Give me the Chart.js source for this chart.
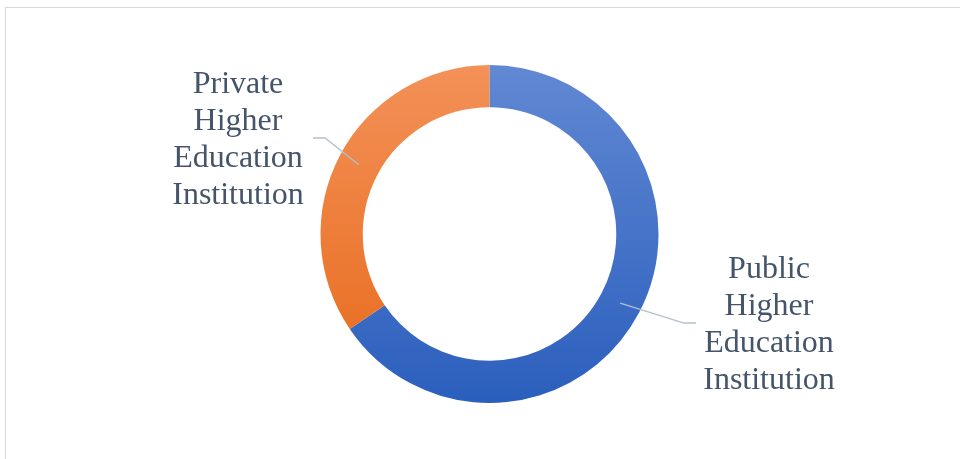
<!DOCTYPE html>
<html>
<head>
<meta charset="utf-8">
<script src="https://cdn.jsdelivr.net/npm/chart.js@4/dist/chart.umd.min.js"></script>
<style>
    html, body { margin: 0; padding: 0; background: #fff; overflow: hidden; }
    #frame {
        position: absolute; left: 5px; top: 7px; width: 1000px; height: 500px;
        border-left: 1px solid #d9d9d9; border-top: 1px solid #d9d9d9;
    }
    #chart-wrap { position: absolute; left: 0; top: 0; width: 960px; height: 459px; }
</style>
</head>
<body>
<div id="frame"></div>
<div id="chart-wrap"><canvas id="chart"></canvas></div>
<script>
const CATEGORIES = ['Public Higher Education Institution', 'Private Higher Education Institution'];
const SHARES = [65.5, 34.5];
const LABEL_LINES = [
    ['Public', 'Higher', 'Education', 'Institution'],
    ['Private', 'Higher', 'Education', 'Institution']
];

// colour stops (top, bottom) for each slice
const GRADIENTS = [
    ['#6188d3', '#2b5fbd'],
    ['#f39158', '#e7691a']
];

// where each label block sits and where its leader line bends
const LABEL_LAYOUT = [
    { x: 769, y: 278, elbow: [684, 323], end: [696, 323] },
    { x: 238, y: 93, elbow: [325, 138], end: [313, 138] }
];

function sliceFill(context) {
    const chart = context.chart;
    const area = chart.chartArea;
    if (!area) return GRADIENTS[context.dataIndex][0];
    const ctx = chart.ctx;
    const g = ctx.createLinearGradient(0, area.top, 0, area.bottom);
    g.addColorStop(0, GRADIENTS[context.dataIndex][0]);
    g.addColorStop(1, GRADIENTS[context.dataIndex][1]);
    return g;
}

const leaderLabels = {
    id: 'leaderLabels',
    afterDatasetsDraw(chart) {
        const ctx = chart.ctx;
        const meta = chart.getDatasetMeta(0);
        ctx.save();
        meta.data.forEach((arc, i) => {
            const lay = LABEL_LAYOUT[i];
            const p = arc.getProps(['x', 'y', 'startAngle', 'endAngle', 'innerRadius', 'outerRadius']);
            const mid = (p.startAngle + p.endAngle) / 2;
            const r = (p.innerRadius + p.outerRadius) / 2;
            const sx = p.x + Math.cos(mid) * r;
            const sy = p.y + Math.sin(mid) * r;

            ctx.strokeStyle = '#b4bfcd';
            ctx.lineWidth = 1.3;
            ctx.beginPath();
            ctx.moveTo(sx, sy);
            ctx.lineTo(lay.elbow[0], lay.elbow[1]);
            ctx.lineTo(lay.end[0], lay.end[1]);
            ctx.stroke();

            ctx.fillStyle = '#44546a';
            ctx.font = '32px "Liberation Serif", "Times New Roman", serif';
            ctx.textAlign = 'center';
            ctx.textBaseline = 'alphabetic';
            LABEL_LINES[i].forEach((line, k) => {
                ctx.fillText(line, lay.x, lay.y + k * 37);
            });
        });
        ctx.restore();
    }
};

new Chart(document.getElementById('chart'), {
    type: 'doughnut',
    data: {
        labels: CATEGORIES,
        datasets: [{
            data: SHARES,
            backgroundColor: sliceFill,
            borderWidth: 0
        }]
    },
    options: {
        responsive: true,
        maintainAspectRatio: false,
        animation: false,
        cutout: '75%',
        layout: { padding: { top: 65, bottom: 56, left: 150, right: 131 } },
        plugins: {
            legend: { display: false },
            tooltip: { enabled: false }
        }
    },
    plugins: [leaderLabels]
});
</script>
</body>
</html>
